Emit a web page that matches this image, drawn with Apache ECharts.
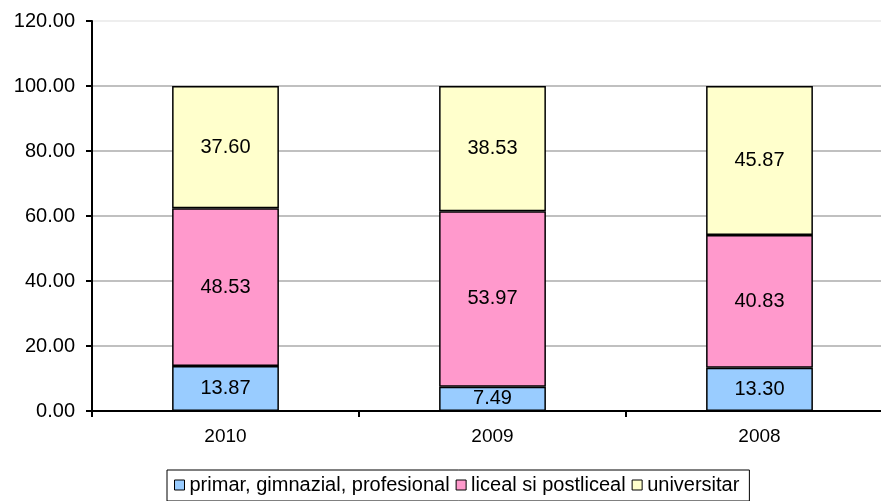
<!DOCTYPE html>
<html><head><meta charset="utf-8">
<script src="https://cdn.jsdelivr.net/npm/echarts@6/dist/echarts.min.js"></script>
<style>html,body{margin:0;padding:0;background:#fff;overflow:hidden}#c{width:900px;height:501px}</style>
</head><body><div id="c"></div>
<script>
var categories = ['2010', '2009', '2008'];
var seriesNames = ['primar, gimnazial, profesional', 'liceal si postliceal', 'universitar'];
var primar = [13.87, 7.49, 13.30];
var liceal = [48.53, 53.97, 40.83];
var universitar = [37.60, 38.53, 45.87];
var colors = ['#99ccff', '#ff99cc', '#ffffcc'];
var font = 'Liberation Sans, Arial, sans-serif';

function mk(name, data, color) {
  return {
    name: name, type: 'bar', stack: 'a', data: data, barWidth: '40%',
    itemStyle: { color: color, borderColor: '#000', borderWidth: 1.5 },
    label: { show: true, position: 'inside', color: '#000', fontSize: 20, fontFamily: font,
      formatter: function (p) { return p.value.toFixed(2); } }
  };
}
var chart = echarts.init(document.getElementById('c'), null, { renderer: 'canvas' });
chart.setOption({
  animation: false,
  grid: { left: 92, top: 21, right: 7, bottom: 90, containLabel: false },
  legend: {
    data: seriesNames, left: 167, top: 470, itemWidth: 10, itemHeight: 10, itemGap: 6,
    padding: [5, 10, 6, 7], borderColor: '#000', borderWidth: 1,
    icon: 'rect',
    textStyle: { fontSize: 20, fontFamily: font, color: '#000' },
    itemStyle: { borderColor: '#000', borderWidth: 1 }
  },
  xAxis: {
    type: 'category', data: categories,
    axisLine: { lineStyle: { color: '#000', width: 2 } },
    axisTick: { show: true, length: 6, lineStyle: { color: '#000', width: 2 } },
    axisLabel: { fontSize: 19, fontFamily: font, color: '#000', margin: 16 }
  },
  yAxis: {
    type: 'value', min: 0, max: 120, interval: 20,
    axisLine: { show: true, lineStyle: { color: '#000', width: 2 } },
    axisTick: { show: true, length: 6, lineStyle: { color: '#000', width: 2 } },
    axisLabel: { fontSize: 20, fontFamily: font, color: '#000', margin: 17,
      formatter: function (v) { return v.toFixed(2); } },
    splitLine: { show: true, lineStyle: { color: ['#c0c0c0', '#c0c0c0', '#c0c0c0', '#c0c0c0', '#c0c0c0', '#c0c0c0', '#eeeeee'], width: 2 } }
  },
  series: [mk(seriesNames[0], primar, colors[0]), mk(seriesNames[1], liceal, colors[1]), mk(seriesNames[2], universitar, colors[2])]
});
</script></body></html>
